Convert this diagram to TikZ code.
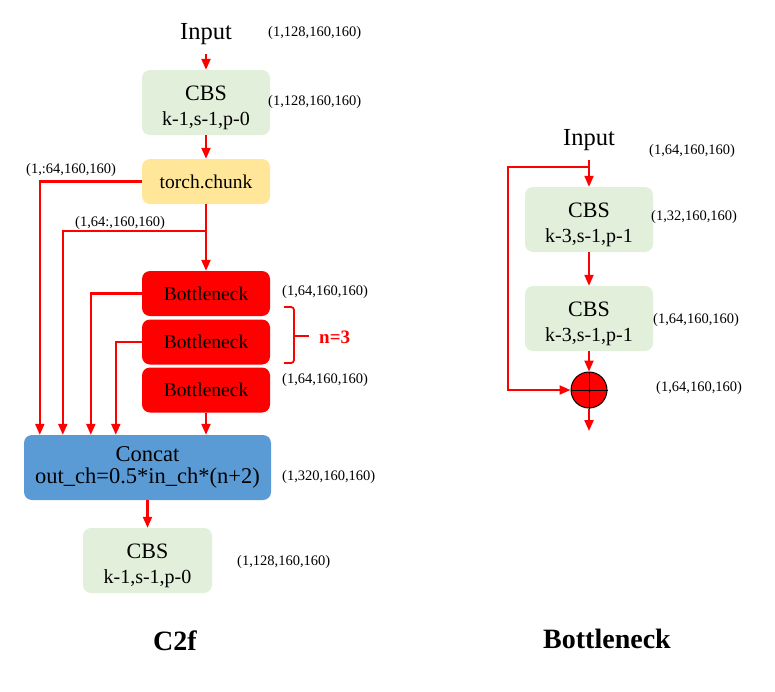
\documentclass[tikz,border=0pt]{standalone}
\usepackage{fontspec}
\setmainfont{Liberation Serif}
\usepackage{tikz}
\usetikzlibrary{arrows.meta}
\usepackage{xcolor}

\definecolor{cbsgreen}{HTML}{E2EFDA}
\definecolor{chunkyellow}{HTML}{FFE699}
\definecolor{catblue}{HTML}{5B9BD5}
\definecolor{linered}{HTML}{FF0000}

\newcommand{\cbslabel}[1]{\rule{0pt}{25pt}{\fontsize{22}{25}\selectfont CBS}\\#1}

\tikzset{
  box/.style={rounded corners=8pt, minimum width=128pt, align=center, inner sep=0pt},
  cbs/.style={box, fill=cbsgreen, minimum height=65pt, font=\fontsize{20}{25}\selectfont},
  chunkbox/.style={box, fill=chunkyellow, minimum height=45pt, font=\fontsize{19.5}{22}\selectfont},
  bnbox/.style={box, fill=linered, minimum height=45pt, font=\fontsize{19.5}{22}\selectfont},
  catbox/.style={box, fill=catblue, minimum width=247pt, minimum height=65pt, font=\fontsize{22.5}{22}\selectfont},
  inp/.style={inner sep=0pt, minimum height=40pt, font=\fontsize{24.5}{26}\selectfont},
  dim/.style={anchor=west, inner sep=0pt, font=\fontsize{14.5}{16}\selectfont},
  title/.style={inner sep=0pt, font=\bfseries\fontsize{28}{30}\selectfont},
  link/.style={draw=linered, line width=2.1pt, ->},
  addop/.style={circle, draw=black, fill=linered, minimum size=36pt, inner sep=0pt, line width=1pt}
}

\begin{document}
\begin{tikzpicture}[x=1pt,y=-1pt,>={Triangle[length=11pt,width=9pt]}]
        \useasboundingbox (0,0) rectangle (775,691);
        % C2f on left
        \node[inp] (inL) at (206,34) {Input};
        \node[cbs] (cbsA) at (206,102.5) {\cbslabel{k-1,s-1,p-0}};
        \node[chunkbox] (chunk) at (206,181.5) {torch.chunk};
        \foreach \y [count=\i] in {293.5,342,390}
          \node[bnbox] (bn\i) at (206,\y) {Bottleneck};
        \node[catbox] (cat) at (147.5,467.5) {Concat\\out\_ch=0.5*in\_ch*(n+2)};
        \node[cbs, minimum width=129pt] (cbsB) at (147.5,560.5) {\cbslabel{k-1,s-1,p-0}};
        \node[title] (tC) at (175,641) {C2f};
        \draw[link] (inL) -- (cbsA);
        \draw[link] (cbsA) -- (chunk);
        \draw[link] (chunk) -- (bn1);
        \draw[link] (chunk.west) -| ([xshift=16pt]cat.north west);
        \coordinate (split) at (206,231);
        \draw[link] (split) -| ([xshift=39pt]cat.north west);
        \draw[link] (bn1.west) -| ([xshift=67pt]cat.north west);
        \draw[link] (bn2.west) -| ([xshift=92pt]cat.north west);
        \draw[link] (bn3) -- (bn3 |- cat.north);
        \draw[link] (cat) -- (cbsB);
        % bracket n=3
        \draw[linered, line width=1.8pt, rounded corners=3pt] (284,307) -- (294,307) -- (294,363) -- (284,363);
        \draw[linered, line width=1.8pt] (294,336) -- (309,336);
        \node[anchor=west, inner sep=0pt, text=linered, font=\bfseries\fontsize{19}{20}\selectfont] (nrep) at (319,337) {n=3};
        % Bottleneck on right
        \node[inp] (inR) at (589,140) {Input};
        \node[cbs] (cbsC) at (589,219.5) {\cbslabel{k-3,s-1,p-1}};
        \node[cbs] (cbsD) at (589,318.5) {\cbslabel{k-3,s-1,p-1}};
        \node[addop] (add) at (589,390) {};
        \draw[line width=1pt] (add.north) -- (add.south) (add.west) -- (add.east);
        \coordinate (skip) at (589,167);
        \coordinate (skipL) at (508,167);
        \coordinate (out) at (589,431);
        \draw[link] (inR) -- (cbsC);
        \draw[link] (skip) -- (skipL) |- (add.west);
        \draw[link] (cbsC) -- (cbsD);
        \draw[link] (cbsD) -- (add);
        \draw[link] (add) -- (out);
        \node[title] (tB) at (607,639) {Bottleneck};
        % shapes
        \foreach \x/\y/\t [count=\i] in {268/33/{(1,128,160,160)}, 268/102/{(1,128,160,160)},
            26/170/{(1,:64,160,160)}, 75/223/{(1,64:,160,160)}, 282/292/{(1,64,160,160)},
            282/380/{(1,64,160,160)}, 282/477/{(1,320,160,160)}, 237/562/{(1,128,160,160)},
            649/151/{(1,64,160,160)}, 651/217/{(1,32,160,160)}, 653/320/{(1,64,160,160)},
            656/388/{(1,64,160,160)}}
          \node[dim] (d\i) at (\x,\y) {\t};
      \end{tikzpicture}
\end{document}
